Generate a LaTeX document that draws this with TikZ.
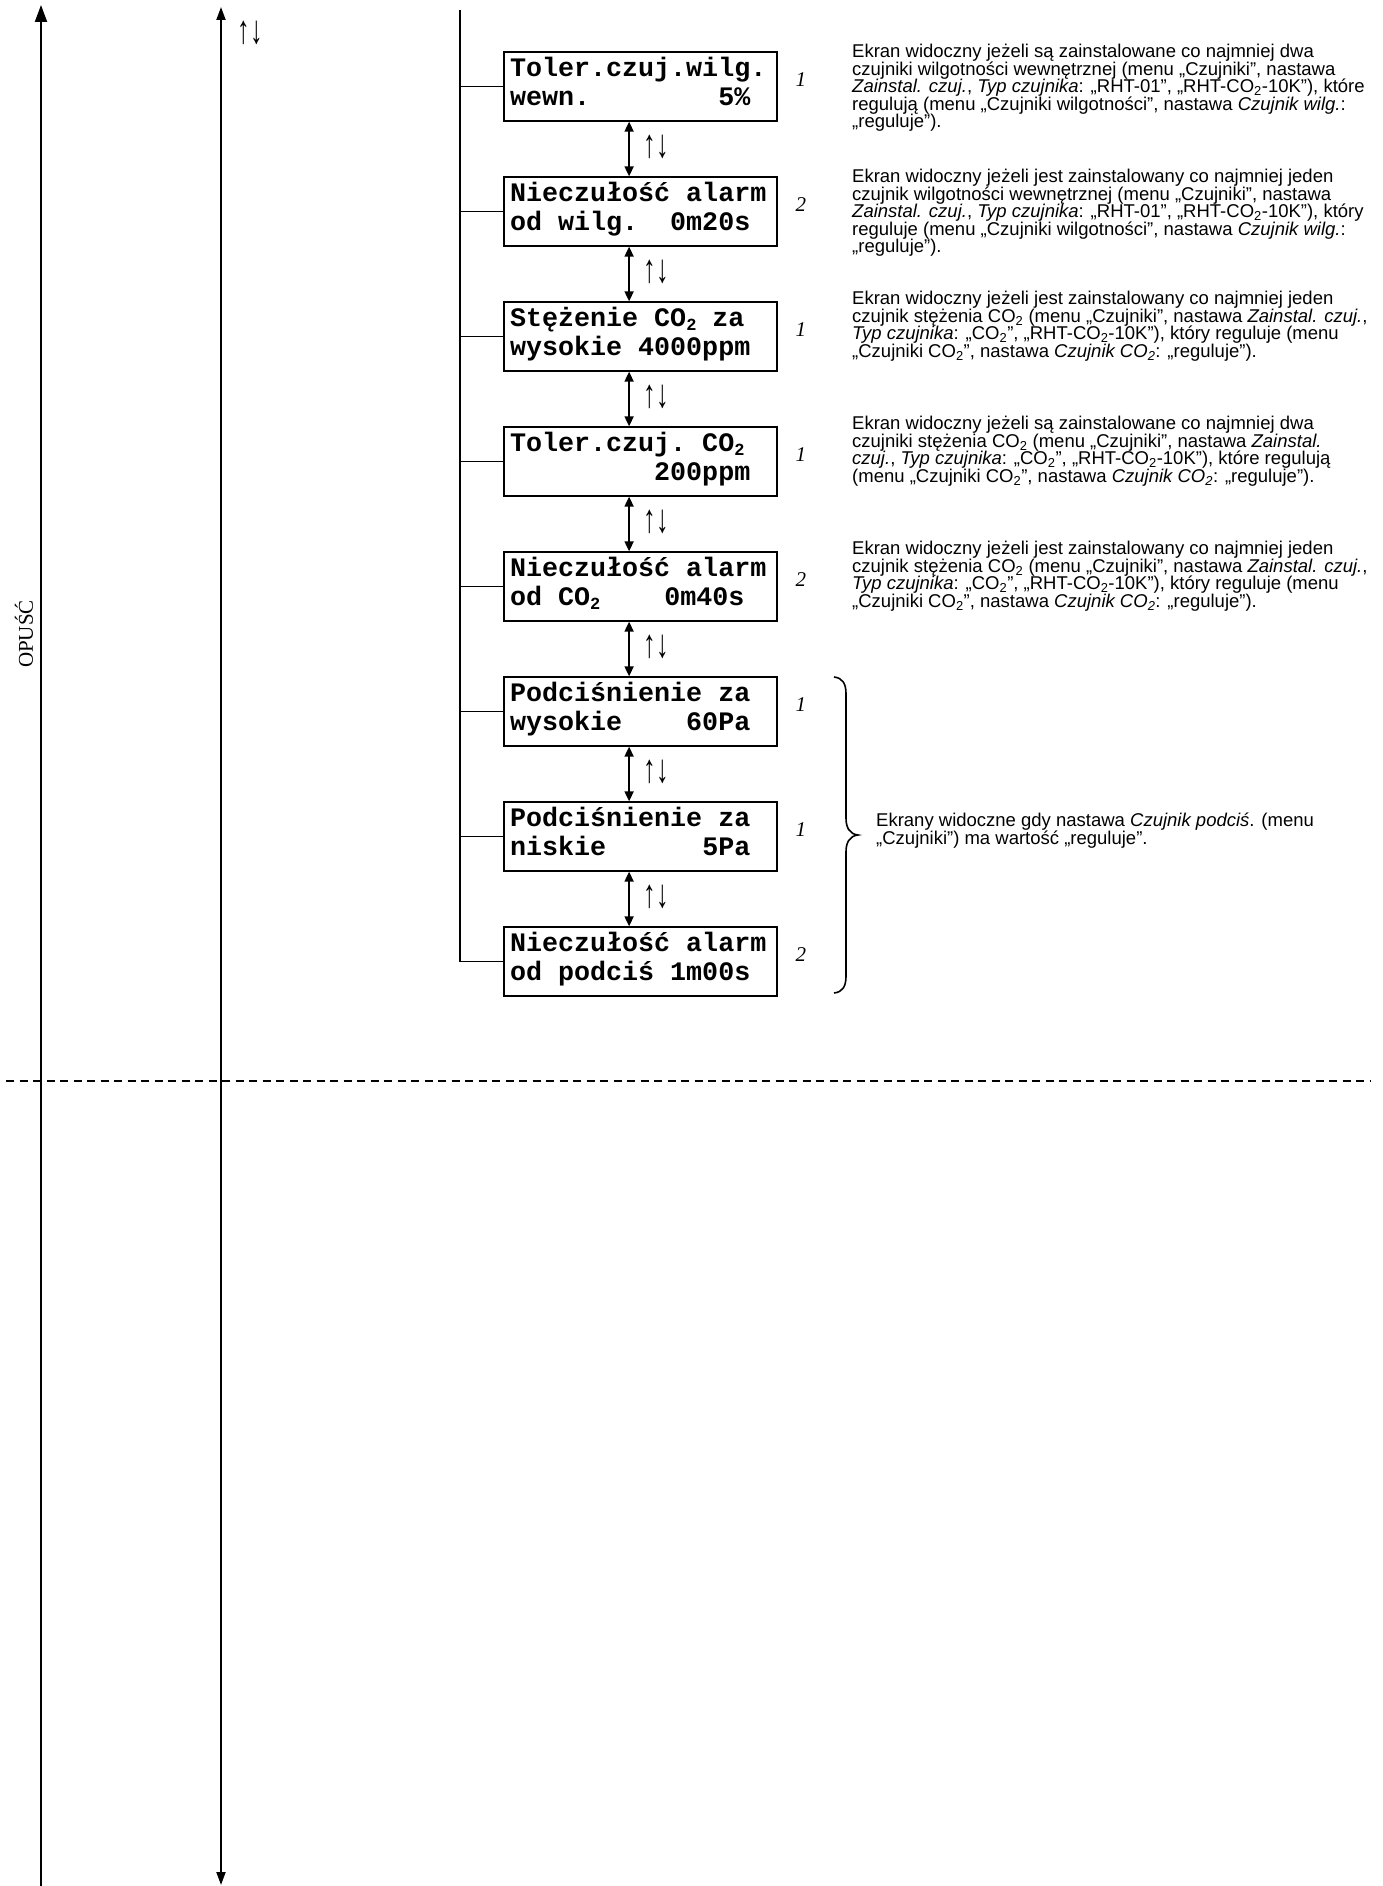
\documentclass[tikz,border=0pt]{standalone}
\usepackage{fontspec}
\usepackage{graphicx}
\setmainfont{Liberation Sans}
\newfontfamily\tnrfont{Liberation Serif}
\newfontfamily\lcdfont{Liberation Mono}
\usetikzlibrary{arrows.meta}
\newcommand\lcdtwo{{\fontsize{17}{17}\selectfont\raisebox{-4pt}{2}}}
\newcommand\subtwo{\textsubscript{2}}
\newcommand\ksp[1]{\hspace*{\dimexpr #1em*6/10\relax}}
\newcommand\lcdtext[2]{\rule{0pt}{22pt}#1\\#2\rule[-13pt]{0pt}{0pt}}
\newcommand\updown{\scalebox{1.2}[1.9]{↑↓}}
\tikzset{
  lcd/.style={draw, line width=1.8pt, text width=261pt, inner xsep=6pt, inner ysep=0pt,
    minimum height=68.5pt, align=left,
    font={\lcdfont\bfseries\fontsize{26.7}{29}\selectfont\lineskiplimit=-50pt\relax}},
  desc/.style={anchor=north west, inner sep=0pt, align=left,
    font={\fontsize{18.5}{17.5}\selectfont\lineskiplimit=-50pt\relax}},
  numlab/.style={font={\tnrfont\itshape\fontsize{21}{21}\selectfont}, inner sep=0pt},
  arrlab/.style={font={\tnrfont\fontsize{21}{21}\selectfont}, inner sep=0pt},
  dblarrow/.style={line width=1.8pt, {Triangle[length=10pt,width=9pt]}-{Triangle[length=10pt,width=9pt]}},
  link/.style={line width=1.6pt},
  mainline/.style={line width=2pt},
  dashline/.style={line width=2pt, dash pattern=on 8pt off 5.5pt},
}
\begin{document}
\begin{tikzpicture}[x=1pt,y=-1pt]
\useasboundingbox (0,0) rectangle (1382,1886);

% left "OPUŚĆ" line
\coordinate (Ltop) at (41,5);
\coordinate (Lbot) at (41,1886);
\draw[mainline, -{Triangle[length=17pt,width=12pt]}] (Lbot) -- (Ltop);
\node[rotate=90, inner sep=0pt, font={\tnrfont\fontsize{21}{21}\selectfont}] (opusc) at (24,634) {OPUŚĆ};

% second line
\coordinate (Mtop) at (221,7);
\coordinate (Mbot) at (221,1885);
\draw[mainline, {Triangle[length=13pt,width=9pt]}-{Triangle[length=13pt,width=9pt]}] (Mtop) -- (Mbot);
\node[arrlab] (udtop) at (250,33) {\updown};

% boxes
\node[lcd] (b1) at (640.5,86.5) {\lcdtext{Toler.czuj.wilg.}{wewn.\ksp{8}5\%}};
\node[lcd] (b2) at (640.5,211.5) {\lcdtext{Nieczułość\ksp{1}alarm}{od\ksp{1}wilg.\ksp{2}0m20s}};
\node[lcd] (b3) at (640.5,336.5) {\lcdtext{Stężenie\ksp{1}CO\lcdtwo\ksp{1}za}{wysokie\ksp{1}4000ppm}};
\node[lcd] (b4) at (640.5,461.5) {\lcdtext{Toler.czuj.\ksp{1}CO\lcdtwo}{\ksp{9}200ppm}};
\node[lcd] (b5) at (640.5,586.5) {\lcdtext{Nieczułość\ksp{1}alarm}{od\ksp{1}CO\lcdtwo\ksp{4}0m40s}};
\node[lcd] (b6) at (640.5,711.5) {\lcdtext{Podciśnienie\ksp{1}za}{wysokie\ksp{4}60Pa}};
\node[lcd] (b7) at (640.5,836.5) {\lcdtext{Podciśnienie\ksp{1}za}{niskie\ksp{6}5Pa}};
\node[lcd] (b8) at (640.5,961.5) {\lcdtext{Nieczułość\ksp{1}alarm}{od\ksp{1}podciś\ksp{1}1m00s}};

% trunk
\coordinate (trunk) at (460,10);
\draw[link] (trunk) |- (b8.west);
\foreach \i in {1,...,7} \draw[link] (b\i.west) -- (b\i.west -| trunk);

% arrows between boxes
\foreach \i/\j in {1/2,2/3,3/4,4/5,5/6,6/7,7/8}{
  \draw[dblarrow] ([xshift=126pt]b\i.south west) -- ([xshift=126pt]b\j.north west)
    node[arrlab, midway, xshift=27pt, yshift=2pt] (ud\i) {\updown};
}

% numbers
\node[numlab] (n1) at ([xshift=23pt,yshift=7pt]b1.east) {1};
\node[numlab] (n2) at ([xshift=23pt,yshift=7pt]b2.east) {2};
\node[numlab] (n3) at ([xshift=23pt,yshift=7pt]b3.east) {1};
\node[numlab] (n4) at ([xshift=23pt,yshift=7pt]b4.east) {1};
\node[numlab] (n5) at ([xshift=23pt,yshift=7pt]b5.east) {2};
\node[numlab] (n6) at ([xshift=23pt,yshift=7pt]b6.east) {1};
\node[numlab] (n7) at ([xshift=23pt,yshift=7pt]b7.east) {1};
\node[numlab] (n8) at ([xshift=23pt,yshift=7pt]b8.east) {2};

% descriptions
\node[desc] (d1) at (852,42.5) {\rule{0pt}{15pt}Ekran widoczny jeżeli są zainstalowane co najmniej dwa\\
czujniki wilgotności wewnętrznej (menu „Czujniki”, nastawa\\
\textit{Zainstal. czuj.}, \textit{Typ czujnika}: „RHT-01”, „RHT-CO\subtwo-10K”), które\\
regulują (menu „Czujniki wilgotności”, nastawa \textit{Czujnik wilg.}:\\
„reguluje”).};
\node[desc] (d2) at (852,167.5) {\rule{0pt}{15pt}Ekran widoczny jeżeli jest zainstalowany co najmniej jeden\\
czujnik wilgotności wewnętrznej (menu „Czujniki”, nastawa\\
\textit{Zainstal. czuj.}, \textit{Typ czujnika}: „RHT-01”, „RHT-CO\subtwo-10K”), który\\
reguluje (menu „Czujniki wilgotności”, nastawa \textit{Czujnik wilg.}:\\
„reguluje”).};
\node[desc] (d3) at (852,289.5) {\rule{0pt}{15pt}Ekran widoczny jeżeli jest zainstalowany co najmniej jeden\\
czujnik stężenia CO\subtwo{} (menu „Czujniki”, nastawa \textit{Zainstal. czuj.},\\
\textit{Typ czujnika}: „CO\subtwo”, „RHT-CO\subtwo-10K”), który reguluje (menu\\
„Czujniki CO\subtwo”, nastawa \textit{Czujnik CO\subtwo}: „reguluje”).};
\node[desc] (d4) at (852,414.5) {\rule{0pt}{15pt}Ekran widoczny jeżeli są zainstalowane co najmniej dwa\\
czujniki stężenia CO\subtwo{} (menu „Czujniki”, nastawa \textit{Zainstal.}\\
\textit{czuj.}, \textit{Typ czujnika}: „CO\subtwo”, „RHT-CO\subtwo-10K”), które regulują\\
(menu „Czujniki CO\subtwo”, nastawa \textit{Czujnik CO\subtwo}: „reguluje”).};
\node[desc] (d5) at (852,539.5) {\rule{0pt}{15pt}Ekran widoczny jeżeli jest zainstalowany co najmniej jeden\\
czujnik stężenia CO\subtwo{} (menu „Czujniki”, nastawa \textit{Zainstal. czuj.},\\
\textit{Typ czujnika}: „CO\subtwo”, „RHT-CO\subtwo-10K”), który reguluje (menu\\
„Czujniki CO\subtwo”, nastawa \textit{Czujnik CO\subtwo}: „reguluje”).};

% brace
\coordinate (brT) at (834,677);
\coordinate (brB) at (834,993);
\draw[line width=1.6pt] (brT) .. controls +(9,1) and +(0,-10) .. ++(12,17)
  -- ++(0,124) .. controls +(0,9) and +(-9,-1) .. ++(12,17)
  .. controls +(-9,1) and +(0,-9) .. ++(-12,17)
  -- ++(0,124) .. controls +(0,10) and +(9,-1) .. (brB);
\node[desc, font={\fontsize{18.5}{18.5}\selectfont}] (d6) at (876,811) {\rule{0pt}{15pt}Ekrany widoczne gdy nastawa \textit{Czujnik podciś}. (menu\\
„Czujniki”) ma wartość „reguluje”.};

% dashed separator
\coordinate (dl) at (6,1081);
\coordinate (dr) at (1371,1081);
\draw[dashline] (dl) -- (dr);
\end{tikzpicture}
\end{document}
